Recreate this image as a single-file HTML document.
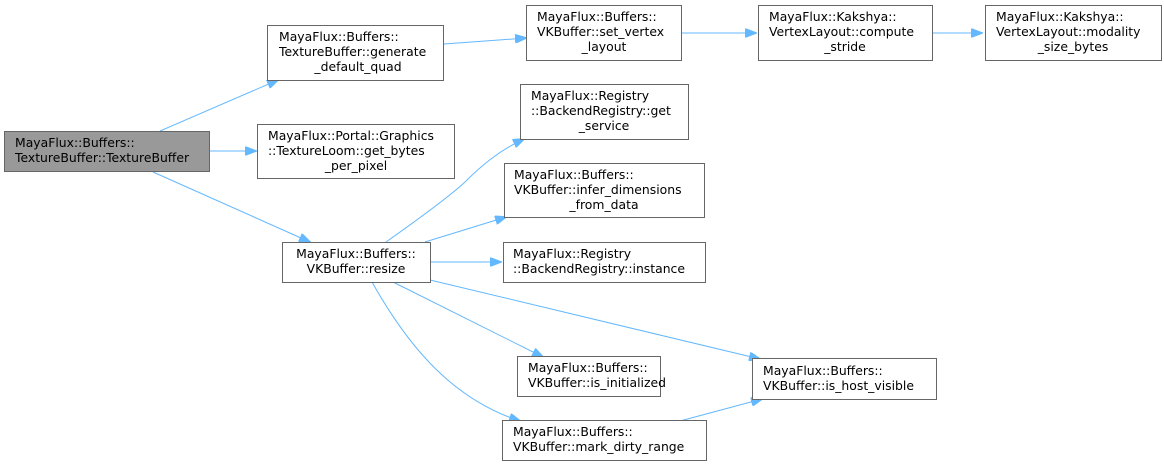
<!DOCTYPE html>
<html><head><meta charset="utf-8"><style>
html,body{margin:0;padding:0;background:#fff;}
svg{display:block;}
text{font-family:"DejaVu Sans","Liberation Sans",sans-serif;font-size:12.4px;fill:#000;}
rect{fill:#fff;stroke:#666;stroke-width:1;}
.e{fill:none;stroke:#63b8ff;stroke-width:1;}
</style></head><body>
<svg width="1164" height="466" viewBox="0 0 1164 466" xmlns="http://www.w3.org/2000/svg">
<defs><marker id="a" markerWidth="12" markerHeight="9" refX="11" refY="4.5" orient="auto" markerUnits="userSpaceOnUse"><path d="M0,0 L12,4.5 L0,9 z" fill="#63b8ff" stroke="#63b8ff"/></marker></defs>

<path class="e" marker-end="url(#a)" d="M160,131 L278,80"/>
<path class="e" marker-end="url(#a)" d="M210,151 L256,151"/>
<path class="e" marker-end="url(#a)" d="M153,172 L310,242"/>
<path class="e" marker-end="url(#a)" d="M444,44 L526,38"/>
<path class="e" marker-end="url(#a)" d="M681,33 L756,33"/>
<path class="e" marker-end="url(#a)" d="M931,33 L982,33"/>
<path class="e" marker-end="url(#a)" d="M386,242 C420,218 450,196 465,182 C482,165 500,150 524,139"/>
<path class="e" marker-end="url(#a)" d="M425,242 L506,217"/>
<path class="e" marker-end="url(#a)" d="M430,262 L501,262"/>
<path class="e" marker-end="url(#a)" d="M430,280 L760,359"/>
<path class="e" marker-end="url(#a)" d="M393,282 L543,357"/>
<path class="e" marker-end="url(#a)" d="M372,282 C410,350 455,400 520,421"/>
<path class="e" marker-end="url(#a)" d="M680,421 L762,399"/>

<rect x="4.5" y="131.5" width="205" height="40" style="fill:#999;stroke:#666"/>
<text x="15" y="147">MayaFlux::Buffers::</text>
<text x="15" y="162">TextureBuffer::TextureBuffer</text>

<rect x="267.5" y="25.5" width="176" height="55"/>
<text x="279" y="41">MayaFlux::Buffers::</text>
<text x="279" y="56">TextureBuffer::generate</text>
<text x="358" y="71" text-anchor="middle">_default_quad</text>

<rect x="257.5" y="124.5" width="197" height="54"/>
<text x="268" y="140">MayaFlux::Portal::Graphics</text>
<text x="268" y="155">::TextureLoom::get_bytes</text>
<text x="356" y="170" text-anchor="middle">_per_pixel</text>

<rect x="282.5" y="242.5" width="148" height="40"/>
<text x="356" y="258" text-anchor="middle">MayaFlux::Buffers::</text>
<text x="356" y="273" text-anchor="middle">VKBuffer::resize</text>

<rect x="526.5" y="5.5" width="155" height="55"/>
<text x="537" y="21">MayaFlux::Buffers::</text>
<text x="537" y="36">VKBuffer::set_vertex</text>
<text x="604" y="51" text-anchor="middle">_layout</text>

<rect x="758.5" y="5.5" width="174" height="55"/>
<text x="769" y="21">MayaFlux::Kakshya::</text>
<text x="769" y="36">VertexLayout::compute</text>
<text x="845" y="51" text-anchor="middle">_stride</text>

<rect x="985.5" y="5.5" width="176" height="55"/>
<text x="996" y="21">MayaFlux::Kakshya::</text>
<text x="996" y="36">VertexLayout::modality</text>
<text x="1073" y="51" text-anchor="middle">_size_bytes</text>

<rect x="520.5" y="84.5" width="168" height="55"/>
<text x="531" y="100">MayaFlux::Registry</text>
<text x="531" y="115">::BackendRegistry::get</text>
<text x="604" y="130" text-anchor="middle">_service</text>

<rect x="504.5" y="163.5" width="200" height="54"/>
<text x="514" y="179">MayaFlux::Buffers::</text>
<text x="514" y="194">VKBuffer::infer_dimensions</text>
<text x="604" y="209" text-anchor="middle">_from_data</text>

<rect x="503.5" y="242.5" width="202" height="40"/>
<text x="513" y="258">MayaFlux::Registry</text>
<text x="513" y="273">::BackendRegistry::instance</text>

<rect x="517.5" y="356.5" width="143" height="40"/>
<text x="528" y="372">MayaFlux::Buffers::</text>
<text x="528" y="387">VKBuffer::is_initialized</text>

<rect x="752.5" y="358.5" width="184" height="41"/>
<text x="763" y="375">MayaFlux::Buffers::</text>
<text x="763" y="390">VKBuffer::is_host_visible</text>

<rect x="502.5" y="420.5" width="204" height="40"/>
<text x="513" y="436">MayaFlux::Buffers::</text>
<text x="513" y="451">VKBuffer::mark_dirty_range</text>
</svg>
</body></html>
